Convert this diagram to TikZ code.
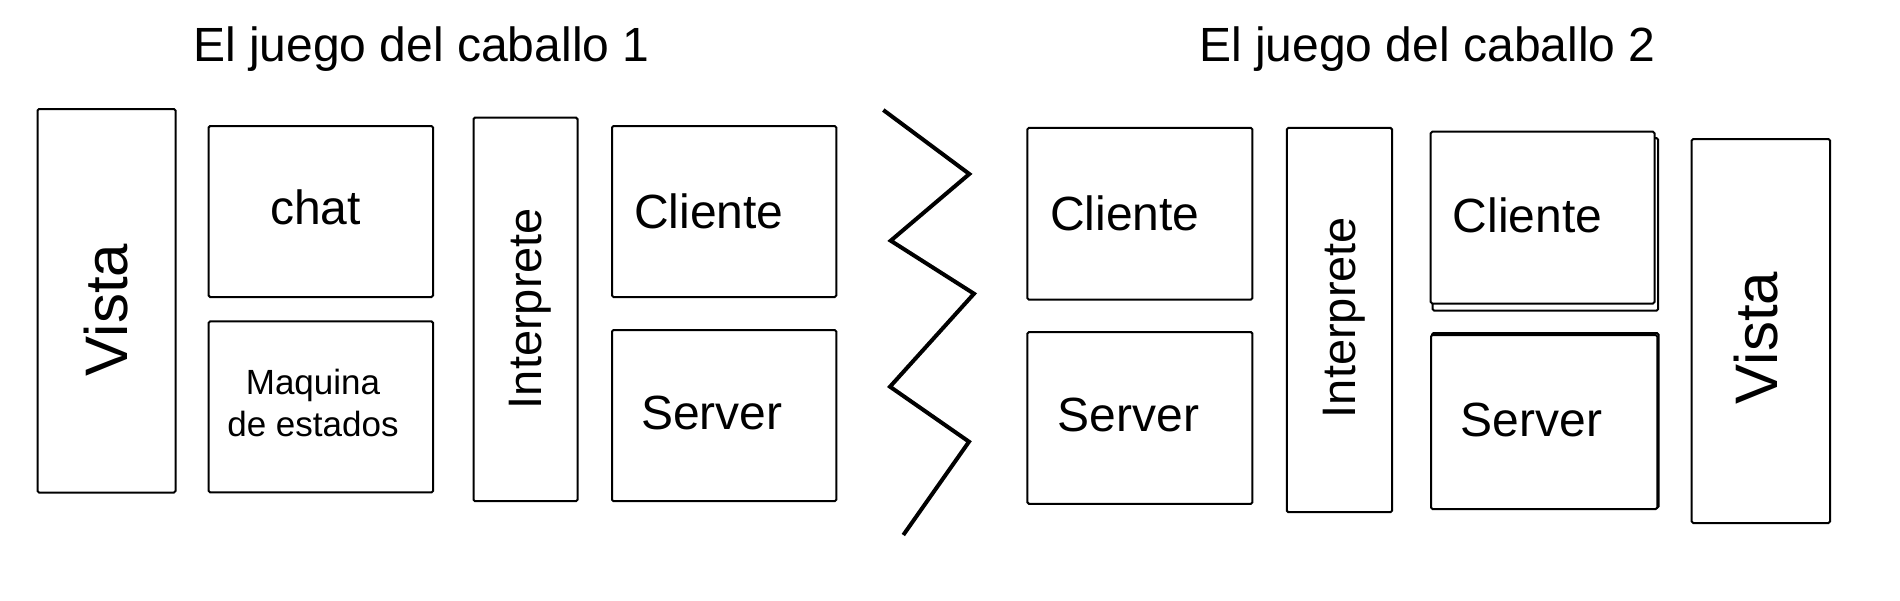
\documentclass[tikz,border=0pt]{standalone}
\usepackage{fontspec}
\setmainfont{Liberation Sans}
\begin{document}
\begin{tikzpicture}[x=1pt,y=1pt,
  box/.style={draw=black, fill=white, line width=2pt, rounded corners=1.5pt, inner sep=0pt},
  lbl/.style={inner sep=0pt, anchor=base west, font=\fontsize{48}{57}\selectfont},
  rlbl/.style={inner sep=0pt, anchor=base, rotate=90, font=\fontsize{47}{56}\selectfont},
  vlbl/.style={inner sep=0pt, anchor=base, rotate=90, font=\fontsize{60}{72}\selectfont},
  ttl/.style={inner sep=0pt, anchor=base west, font=\fontsize{48}{57}\selectfont}]
\useasboundingbox (0,0) rectangle (1900,-600);
\fill[white] (0,0) rectangle (1900,-600);

% titles
\node[ttl] (t1) at (193,-61) {El juego del caballo 1};
\node[ttl] (t2) at (1199,-61) {El juego del caballo 2};

% left group
\node[box, minimum width=138pt, minimum height=383.5pt] (vista1) at (106.5,-300.75) {};
\node[box, minimum width=224.4pt, minimum height=171pt] (chat) at (320.8,-211.5) {};
\node[box, minimum width=224.4pt, minimum height=171pt] (maq) at (320.8,-406.9) {};
\node[box, minimum width=104pt, minimum height=383.6pt] (int1) at (525.5,-309.4) {};
\node[box, minimum width=224.3pt, minimum height=171pt] (cli1) at (724.15,-211.5) {};
\node[box, minimum width=224.3pt, minimum height=171.2pt] (ser1) at (724.15,-415.6) {};

\node[vlbl] (vista1t) at (127,-310) {Vista};
\node[lbl] (chatt) at (270,-224.4) {chat};
\node[inner sep=0pt, align=center, font=\fontsize{35}{42}\selectfont] (maqt) at (313,-403) {Maquina\\de estados};
\node[rlbl] (int1t) at (541.2,-308.5) {Interprete};
\node[lbl] (cli1t) at (634,-228.3) {Cliente};
\node[lbl] (ser1t) at (641,-429.4) {Server};

% zigzag separator
\draw[line width=4pt, line join=miter] (883.3,-110) -- (969.3,-174) -- (890.7,-240.7) -- (974,-293.7) -- (890,-386.7) -- (969,-441.7) -- (903.3,-535);

% right group
\node[box, minimum width=225pt, minimum height=171.7pt] (cliA) at (1139.9,-213.75) {};
\node[box, minimum width=225pt, minimum height=171.8pt] (serA) at (1139.9,-417.9) {};
\node[box, minimum width=105.2pt, minimum height=384.3pt] (int2) at (1339.4,-320.05) {};
\node[box, minimum width=225.3pt, minimum height=172.7pt] (cliBs) at (1545.35,-224.35) {};
\node[box, minimum width=223.8pt, minimum height=171.8pt] (cliB) at (1542.6,-217.6) {};
\node[box, minimum width=226.5pt, minimum height=175pt] (serBs) at (1545.25,-420.5) {};
\node[box, minimum width=226.3pt, minimum height=174pt] (serB) at (1544.15,-422) {};
\node[box, minimum width=138.3pt, minimum height=384pt] (vista2) at (1760.85,-331) {};

\node[lbl] (cliAt) at (1050,-230) {Cliente};
\node[lbl] (serAt) at (1057.5,-431.3) {Server};
\node[rlbl] (int2t) at (1355,-317.5) {Interprete};
\node[lbl] (cliBt) at (1452.5,-232.7) {Cliente};
\node[lbl] (serBt) at (1460.5,-436.7) {Server};
\node[vlbl] (vista2t) at (1777,-338) {Vista};
\end{tikzpicture}
\end{document}
